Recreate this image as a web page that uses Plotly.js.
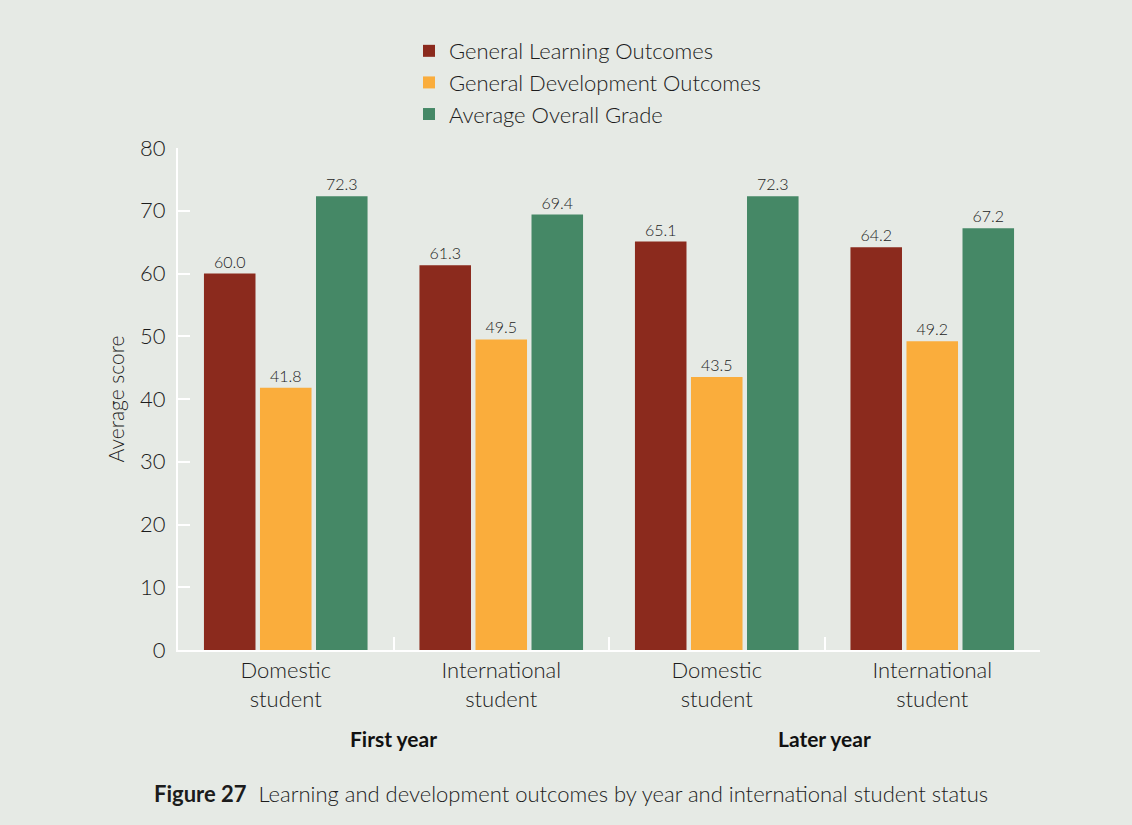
<!DOCTYPE html>
<html>
<head>
<meta charset="utf-8">
<script src="https://cdn.plot.ly/plotly-3.0.1.min.js"></script>
<style>html,body{margin:0;padding:0;background:#E6EAE5;}</style>
</head>
<body>
<div id="chart" style="width:1132px;height:825px;"></div>
<script>
const categories = ["Domestic<br>student", "International<br>student", "Domestic<br>student", "International<br>student"];
const yearGroups = ["First year", "Later year"];
const seriesNames = ["General Learning Outcomes", "General Development Outcomes", "Average Overall Grade"];
const learningOutcomes = [60.0, 61.3, 65.1, 64.2];
const developmentOutcomes = [41.8, 49.5, 43.5, 49.2];
const overallGrade = [72.3, 69.4, 72.3, 67.2];
const yTicks = [0, 10, 20, 30, 40, 50, 60, 70, 80];
const captionBold = "Figure 27";
const captionText = "Learning and development outcomes by year and international student status";

const colors = ["#8B2A1D", "#FAAD3C", "#458866"];
const FONT = "Lato, 'Open Sans', sans-serif";
const TXT = "#1c1c1c";
const LIGHT = 300;
const xIdx = categories.map((_, i) => i);

const seriesValues = [learningOutcomes, developmentOutcomes, overallGrade];
const traces = seriesValues.map((vals, k) => ({
  type: "bar",
  name: seriesNames[k],
  x: xIdx,
  y: vals,
  marker: {color: colors[k]},
  text: vals.map(v => v.toFixed(1)),
  textposition: "outside",
  cliponaxis: false,
  textfont: {family: FONT, size: 16, color: TXT, weight: LIGHT},
  hoverinfo: "x+y"
}));
// separator ticks on an overlaid axis
traces.push({type: "scatter", x: [0], y: [0], xaxis: "x2", yaxis: "y", mode: "markers",
  marker: {opacity: 0}, showlegend: false, hoverinfo: "skip"});

const annotations = yearGroups.map((g, i) => ({
  text: "<b>" + g + "</b>", xref: "x", yref: "paper", x: i * 2 + 0.5, y: -0.177,
  yanchor: "middle", showarrow: false, font: {family: FONT, size: 21, color: "#111"}
}));
annotations.push({
  text: "<b>" + captionBold + "</b>  " + captionText, xref: "paper", yref: "paper",
  x: 0.456, y: -0.285, xanchor: "center", yanchor: "middle", showarrow: false,
  font: {family: FONT, size: 22, color: TXT, weight: LIGHT}
});

const layout = {
  width: 1132, height: 825,
  paper_bgcolor: "#E6EAE5", plot_bgcolor: "#E6EAE5",
  margin: {l: 178, r: 92, t: 148, b: 175},
  font: {family: FONT, color: TXT},
  barmode: "group", bargap: 0.22, bargroupgap: 0.08,
  showlegend: true,
  legend: {x: 0.268, y: 1.235, xanchor: "left", yanchor: "top", traceorder: "normal",
    font: {family: FONT, size: 22, color: TXT, weight: LIGHT}, bgcolor: "rgba(0,0,0,0)", tracegroupgap: 0},
  xaxis: {
    range: [-0.5, 3.5], tickmode: "array", tickvals: xIdx, ticktext: categories,
    showgrid: false, zeroline: false, showline: true, linecolor: "#FFFFFF", linewidth: 2,
    ticks: "", tickfont: {family: FONT, size: 22, color: TXT, weight: LIGHT}
  },
  xaxis2: {
    overlaying: "x", range: [-0.5, 3.5], tickmode: "array", tickvals: [0.5, 1.5, 2.5, 3.5],
    showticklabels: false, ticks: "inside", ticklen: 13, tickwidth: 2, tickcolor: "#FFFFFF",
    showgrid: false, zeroline: false, showline: false, side: "bottom"
  },
  yaxis: {
    range: [0, 80], tickmode: "array", tickvals: yTicks, ticktext: yTicks.map(String),
    showgrid: false, zeroline: false, showline: true, linecolor: "#FFFFFF", linewidth: 2,
    ticks: "inside", ticklen: 12, tickwidth: 2, tickcolor: "#FFFFFF", ticklabelstandoff: 6,
    tickfont: {family: FONT, size: 22, color: TXT, weight: LIGHT},
    title: {text: "Average score", font: {family: FONT, size: 21, color: TXT, weight: LIGHT}, standoff: 10}
  },
  annotations: annotations
};

Plotly.newPlot("chart", traces, layout, {displayModeBar: false, staticPlot: true});
</script>
</body>
</html>
